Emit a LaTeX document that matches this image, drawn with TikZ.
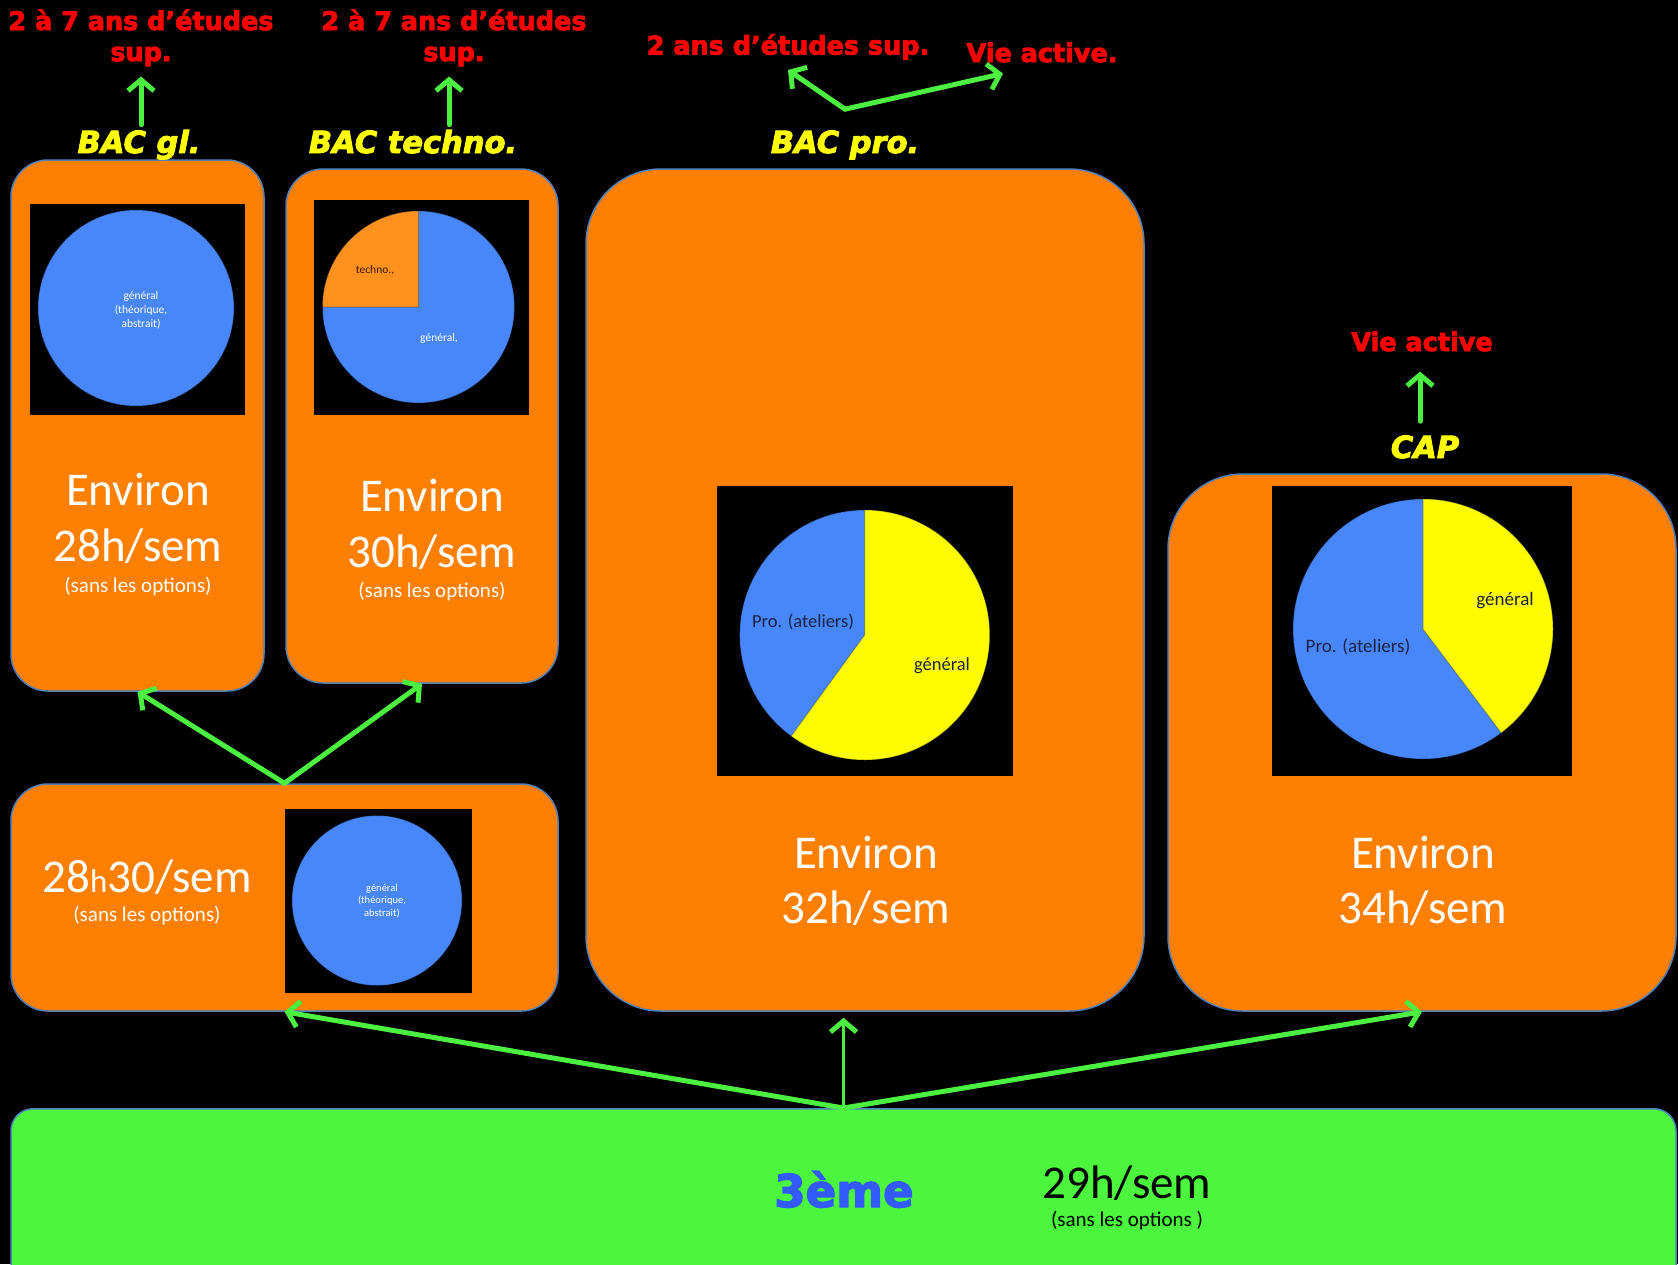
\documentclass[tikz,border=0pt]{standalone}
\usepackage{fontspec}
\setmainfont{Carlito}
\newfontfamily\heavy{DejaVu Sans Bold}[FakeBold=3]
\newfontfamily\heavyit{DejaVu Sans Bold Oblique}[FakeBold=3]
\usetikzlibrary{arrows.meta}
\definecolor{boxorange}{RGB}{255,127,0}
\definecolor{boxedge}{RGB}{79,129,189}
\definecolor{limebox}{RGB}{76,246,62}
\definecolor{arrowgreen}{RGB}{76,240,64}
\definecolor{pieblue}{RGB}{72,135,250}
\definecolor{pieyellow}{RGB}{255,252,0}
\definecolor{pieorange}{RGB}{255,146,30}
\definecolor{txtred}{RGB}{255,0,0}
\definecolor{txtyellow}{RGB}{255,255,0}
\definecolor{bluetxt}{RGB}{50,90,255}
\definecolor{navytxt}{RGB}{25,35,70}
\definecolor{browntxt}{RGB}{60,25,0}
\begin{document}
\begin{tikzpicture}[x=1pt,y=-1pt,
  box/.style={draw=boxedge, line width=1.5pt, fill=boxorange, rounded corners=#1, inner sep=0pt},
  box/.default=37pt,
  imgbox/.style={fill=black},
  pierim/.style={draw=black, draw opacity=0.25, line width=1pt},
  redtxt/.style={text=txtred, font=\heavy\fontsize{25.5}{30}\selectfont, inner sep=0pt, anchor=base},
  yeltxt/.style={text=txtyellow, font=\heavyit\fontsize{30.5}{36}\selectfont, inner sep=0pt, anchor=base},
  bigtxt/.style={text=white, font=\fontsize{47}{56}\selectfont, inner sep=0pt, anchor=base},
  smalltxt/.style={text=white, font=\fontsize{21}{25}\selectfont, inner sep=0pt, anchor=base},
  pielab/.style={font=\fontsize{11.5}{14}\selectfont, align=center, inner sep=0pt},
  pielabbig/.style={font=\fontsize{18.5}{22}\selectfont, inner sep=0pt, text=navytxt},
  flow/.style={draw=arrowgreen, line width=5pt, line cap=round,
    -{Straight Barb[length=11pt,width=26pt,line width=5pt]}},
  flowthin/.style={flow, line width=3.5pt}
]
\useasboundingbox (0,0) rectangle (1678,1264);
\fill[black] (0,0) rectangle (1678,1264);

% boxes
\node[box, minimum width=253pt, minimum height=531pt] (bgl) at (137.5,425.5) {};
\node[box, minimum width=272pt, minimum height=514pt] (btech) at (422,426) {};
\node[box=75pt, minimum width=558pt, minimum height=842pt] (bpro) at (865,590) {};
\node[box=75pt, minimum width=508pt, minimum height=537pt] (bcap) at (1422,742.5) {};
\node[box, minimum width=547pt, minimum height=227pt] (bcom) at (284.5,897.5) {};
\node[box=22pt, fill=limebox, minimum width=1665pt, minimum height=200pt, anchor=north] (trois) at (843.5,1108) {};

% image backgrounds
\fill[imgbox] (30,204) rectangle (245,415);
\fill[imgbox] (314,200) rectangle (529,415);
\fill[imgbox] (717,486) rectangle (1013,776);
\fill[imgbox] (1272,486) rectangle (1572,776);
\fill[imgbox] (285,809) rectangle (472,993);

% pies
\fill[pieblue, pierim] (136,308) circle[radius=98];
\fill[pieblue, pierim] (418.5,307) circle[radius=96];
\fill[pieorange, pierim] (418.5,307) -- ++(-180:96) arc[start angle=-180,end angle=-90,radius=96] -- cycle;
\fill[pieblue, pierim] (864.7,635) circle[radius=125];
\fill[pieyellow, pierim] (864.7,635) -- ++(-90:125) arc[start angle=-90,end angle=126,radius=125] -- cycle;
\fill[pieblue, pierim] (1423,629) circle[radius=130];
\fill[pieyellow, pierim] (1423,629) -- ++(-90:130) arc[start angle=-90,end angle=53,radius=130] -- cycle;
\fill[pieblue, pierim] (377,900.5) circle[radius=85];

% pie labels
\node[pielab, text=white] (p1lab) at (141,310) {général\\(théorique,\\abstrait)};
\node[pielab, text=browntxt] (p2a) at (375,270) {techno.,};
\node[pielab, text=white] (p2b) at (439,338) {général,};
\node[pielabbig] (p3a) at (803,622) {Pro. (ateliers)};
\node[pielabbig] (p3b) at (942,666) {général};
\node[pielabbig, font=\fontsize{19}{22}\selectfont] (p4a) at (1505,601) {général};
\node[pielabbig, font=\fontsize{19}{22}\selectfont] (p4b) at (1358,647) {Pro. (ateliers)};
\node[pielab, text=white, font=\fontsize{10.5}{12.5}\selectfont] (p5lab) at (382,901) {général\\(théorique,\\abstrait)};

% box texts
\node[bigtxt] (e1) at (138,505) {Environ};
\node[bigtxt] (h1) at (138,561) {28h/sem};
\node[smalltxt] (s1) at (138,592) {(sans les options)};
\node[bigtxt] (e2) at (432,511) {Environ};
\node[bigtxt] (h2) at (432,567) {30h/sem};
\node[smalltxt] (s2) at (432,597) {(sans les options)};
\node[bigtxt] (e3) at (866,868) {Environ};
\node[bigtxt] (h3) at (866,923) {32h/sem};
\node[bigtxt] (e4) at (1423,868) {Environ};
\node[bigtxt] (h4) at (1423,923) {34h/sem};
\node[bigtxt] (h5) at (147,892) {28{\fontsize{33}{40}\selectfont h}30/sem};
\node[smalltxt] (s5) at (147,921) {(sans les options)};
\node[text=bluetxt, font=\heavy\fontsize{45}{50}\selectfont, inner sep=0pt, anchor=base] (t3) at (844,1207) {3ème};
\node[bigtxt, text=black] (h6) at (1127,1198) {29h/sem};
\node[smalltxt, text=black] (s6) at (1127,1226) {(sans les options )};

% top labels
\node[redtxt] (et1) at (141,30) {2 à 7 ans d’études};
\node[redtxt] (et1s) at (141,61) {sup.};
\node[redtxt] (et2) at (454,30) {2 à 7 ans d’études};
\node[redtxt] (et2s) at (454,61) {sup.};
\node[redtxt] (et3) at (788,54.5) {2 ans d’études sup.};
\node[redtxt] (va1) at (1042,62) {Vie active.};
\node[redtxt] (va2) at (1422,351) {Vie active};
\node[yeltxt] (lgl) at (139,153) {BAC gl.};
\node[yeltxt] (ltech) at (413,153) {BAC techno.};
\node[yeltxt] (lpro) at (845,153) {BAC pro.};
\node[yeltxt] (lcap) at (1425,458) {CAP};

% arrows
\draw[flow, shorten <=5pt, shorten >=10pt] (lgl.north -| et1s.south) -- (et1s.south);
\draw[flow, shorten <=5pt, shorten >=10pt] ([xshift=-5pt]et2s.south |- ltech.north) -- ([xshift=-5pt]et2s.south);
\coordinate (jpro) at ([yshift=21pt]lpro.north);
\draw[flow] (jpro) -- ([yshift=-10pt]et3.south);
\draw[flow] (jpro) -- ([xshift=-39pt,yshift=-11pt]va1.south);
\draw[flow, shorten <=14pt, shorten >=20pt] ([xshift=-5pt]lcap.north) -- ([xshift=-5pt]lcap.north |- va2.south);
\draw[flow] (bcom.north) -- (bgl.south);
\draw[flow] (bcom.north) -- (btech.south);
\draw[flow] (trois.north) -- (bcom.south);
\draw[flowthin, shorten >=6pt] (trois.north) -- (trois.north |- bpro.south);
\draw[flow] (trois.north) -- (bcap.south);
\end{tikzpicture}
\end{document}
